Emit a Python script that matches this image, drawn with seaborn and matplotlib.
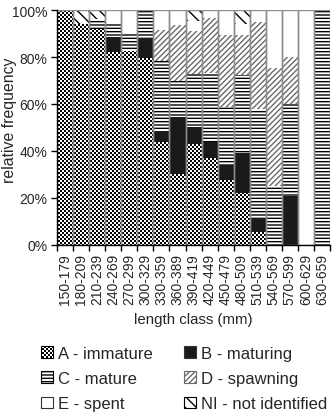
import warnings
import numpy as np
import pandas as pd
import seaborn as sns
import matplotlib.pyplot as plt
import matplotlib.hatch as mhatch
from matplotlib.path import Path
from matplotlib.patches import Patch
from matplotlib.ticker import PercentFormatter

warnings.filterwarnings("ignore")

# length classes and share (%) of each maturity stage
classes = ['150-179', '180-209', '210-239', '240-269', '270-299', '300-329',
           '330-359', '360-389', '390-419', '420-449', '450-479', '480-509',
           '510-539', '540-569', '570-599', '600-629', '630-659']
immature = [100, 94.0, 91.9, 82.0, 82.7, 79.8, 43.6, 30.1, 42.9, 36.8, 27.6, 21.9, 5.3, 0, 0, 0, 0]
maturing = [0, 0, 0, 6.4, 0, 8.5, 5.0, 24.1, 7.4, 7.1, 6.5, 17.2, 6.1, 0, 20.9, 0, 0]
mature = [0, 0, 4.3, 5.8, 7.1, 11.7, 29.8, 15.6, 22.4, 29.5, 24.4, 33.2, 46.4, 24.9, 39.1, 0, 100]
spawning = [0, 0, 0, 0, 0, 0, 13.2, 23.7, 18.5, 23.4, 30.8, 17.0, 37.2, 50.3, 20.2, 0, 0]
spent = [0, 0, 0, 5.8, 10.2, 0, 8.4, 6.5, 4.3, 3.2, 10.7, 4.7, 5.0, 24.8, 19.8, 100, 0]
not_ident = [0, 6.0, 3.8, 0, 0, 0, 0, 0, 4.5, 0, 0, 6.0, 0, 0, 0, 0, 0]

labels = ['A - immature', 'B - maturing', 'C - mature',
          'D - spawning', 'E - spent', 'NI - not identified']

HATCH_LW = 1.0  # points, same for every hatch
plt.rcParams['hatch.linewidth'] = HATCH_LW


# matplotlib has no checkerboard hatch, so add one ('c')
# the hatch stroke fattens each square, so the drawn square is shrunk by it
class CheckerHatch(mhatch.HatchPatternBase):
    def __init__(self, hatch, density):
        self.n = 25 * hatch.count('c')
        self.num_vertices = 2 * self.n * self.n * 5

    def set_vertices_and_codes(self, vertices, codes):
        n = self.n
        cell = 1.0 / (2 * n)
        stroke = HATCH_LW / 72.0       # hatch unit = 1 inch
        side = max(cell - stroke, cell * 0.15)
        off = (cell - side) / 2
        k = 0
        for row in range(2 * n):
            for col in range(n):
                x0 = (2 * col + row % 2) * cell + off
                y0 = row * cell + off
                vertices[k:k + 5] = [(x0, y0), (x0 + side, y0), (x0 + side, y0 + side),
                                     (x0, y0 + side), (x0, y0)]
                codes[k:k + 5] = [Path.MOVETO, Path.LINETO, Path.LINETO,
                                  Path.LINETO, Path.CLOSEPOLY]
                k += 5


mhatch._hatch_types.append(CheckerHatch)

# face colour, hatch colour, hatch
styles = [
    ('white', 'black', 'c'),
    ('#1a1a1a', '#1a1a1a', None),
    ('white', 'black', '-----'),
    ('white', '#6a6a6a', '//////'),
    ('white', 'white', None),
    ('white', 'black', '\\\\\\'),
]

df = pd.DataFrame({'A': immature, 'B': maturing, 'C': mature,
                   'D': spawning, 'E': spent, 'NI': not_ident}, index=classes)
cum = df.cumsum(axis=1)

sns.set_style("ticks")
plt.rcParams['font.family'] = ['Liberation Sans', 'DejaVu Sans']
plt.rcParams['hatch.linewidth'] = HATCH_LW

fig = plt.figure(figsize=(3.36, 4.14), dpi=100)
ax = fig.add_axes([0.170, 0.407, 0.812, 0.566])

# stacked bars: draw cumulative totals from the top layer down
for i in reversed(range(len(df.columns))):
    face, hc, hatch = styles[i]
    sns.barplot(x=classes, y=cum.iloc[:, i].values, color=face, edgecolor=hc,
                hatch=hatch, linewidth=0, width=1.0, saturation=1,
                errorbar=None, ax=ax)

# grey outlines round every bar
sns.barplot(x=classes, y=cum.iloc[:, -1].values, fill=False, color='#8c8c8c',
            linewidth=1.0, width=1.0, errorbar=None, ax=ax)

ax.set_xlim(-0.5, len(classes) - 0.5)
ax.set_ylim(0, 100)
ax.set_yticks(range(0, 101, 20))
ax.yaxis.set_major_formatter(PercentFormatter(100, decimals=0))
ax.set_xticks(range(len(classes)))
ax.set_xticklabels(classes, rotation=90)
ax.set_xticks(np.arange(-0.5, len(classes)), minor=True)
ax.tick_params(axis='x', which='major', length=0, pad=6, labelsize=10)
ax.tick_params(axis='x', which='minor', length=4, width=1, color='black', direction='out')
ax.tick_params(axis='y', length=4, width=1, color='black', pad=3, labelsize=10)
for s in ['top', 'right']:
    ax.spines[s].set_visible(False)
for s in ['left', 'bottom']:
    ax.spines[s].set_color('black')
    ax.spines[s].set_linewidth(1)

ax.set_xlabel('length class (mm)', fontsize=10.8, labelpad=6)
ax.set_ylabel('relative frequency', fontsize=11.4)
ax.yaxis.set_label_coords(-0.148, 0.534)

handles = []
for face, hc, hatch in styles:
    edge = '#333333' if hatch is None else hc
    handles.append(Patch(facecolor=face, edgecolor=edge, hatch=hatch, linewidth=0.8))

order = [0, 2, 4, 1, 3, 5]
fig.legend([handles[i] for i in order], [labels[i] for i in order], ncol=2,
           loc='upper left', bbox_to_anchor=(0.122, 0.163), frameon=False,
           fontsize=12, handlelength=0.7, handleheight=0.7,
           handletextpad=0.3, columnspacing=1.9, labelspacing=0.62,
           borderpad=0, borderaxespad=0)

fig.savefig('out.png', dpi=100)
